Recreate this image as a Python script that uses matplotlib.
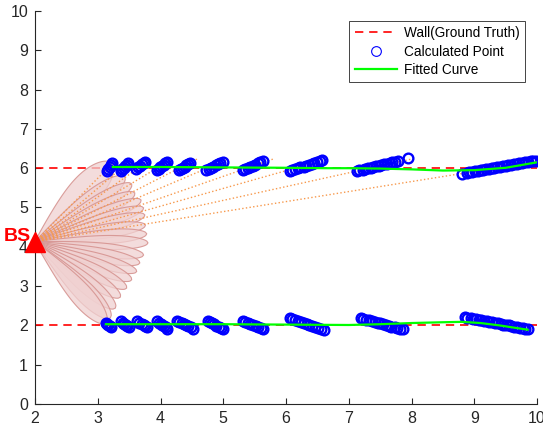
import numpy as np
import matplotlib
matplotlib.use("Agg")
import matplotlib.pyplot as plt
from matplotlib.patches import Polygon

plt.rcParams['font.family'] = ['Liberation Sans', 'DejaVu Sans']

# base station
bs_x, bs_y = 2.0, 4.13

# walls (ground truth)
wall_x = [2, 10]
wall_top = [6, 6]
wall_bottom = [2, 2]

# beam lobe tips (data coords)
lobe_tip_x = [3.22, 3.43, 3.54, 3.59, 3.69, 3.73, 3.75, 3.76, 3.78, 3.80,
              3.73, 3.67, 3.62, 3.54, 3.46, 3.36, 3.28, 3.20, 3.13]
lobe_tip_y = [6.13, 5.78, 5.60, 5.37, 5.19, 4.99, 4.81, 4.55, 4.33, 4.10,
              3.79, 3.59, 3.37, 3.16, 2.95, 2.72, 2.44, 2.19, 2.06]
lobe_width = [30, 20, 17, 16, 15, 14, 14, 14, 14, 14,
              14, 14, 14, 15, 15, 16, 18, 20, 22]  # px

# dotted rays from BS to the upper wall clusters
ray_end_x = [3.27, 3.56, 3.86, 4.18, 4.58, 5.08, 5.79, 6.65, 8.05, 10.0]
ray_end_y = [6.18, 6.25, 6.25, 6.23, 6.23, 6.23, 6.23, 6.23, 6.25, 6.17]

# calculated points, upper wall
top_x = [3.15, 3.17, 3.19, 3.21, 3.23,
         3.37, 3.39, 3.41, 3.43, 3.46, 3.48,
         3.61, 3.64, 3.67, 3.70, 3.73, 3.76,
         3.94, 3.97, 3.99, 4.02, 4.05, 4.07, 4.10,
         4.30, 4.33, 4.36, 4.39, 4.41, 4.44, 4.47,
         4.73, 4.77, 4.80, 4.84, 4.88, 4.92, 4.95, 4.99,
         5.31, 5.35, 5.39, 5.43, 5.47, 5.51, 5.55, 5.59, 5.63,
         6.06, 6.10, 6.15, 6.19, 6.23, 6.28, 6.32, 6.36, 6.41, 6.45, 6.49, 6.54, 6.58,
         7.13, 7.17, 7.22, 7.26, 7.30, 7.35, 7.39, 7.43, 7.48, 7.52, 7.56, 7.61, 7.65,
         7.69, 7.74, 7.78, 7.94,
         8.80, 8.88, 8.92, 8.97, 9.01, 9.06, 9.10, 9.14, 9.19, 9.23, 9.28, 9.32, 9.37,
         9.41, 9.45, 9.50, 9.54, 9.59, 9.63, 9.68, 9.72, 9.76, 9.81, 9.85, 9.90, 9.94, 9.99]
top_y = [5.94, 5.99, 6.04, 6.08, 6.13,
         5.93, 5.97, 6.01, 6.05, 6.09, 6.13,
         5.98, 6.02, 6.06, 6.10, 6.13, 6.17,
         5.95, 5.99, 6.02, 6.05, 6.09, 6.12, 6.16,
         5.95, 5.98, 6.01, 6.04, 6.07, 6.10, 6.13,
         5.95, 5.98, 6.01, 6.04, 6.07, 6.11, 6.14, 6.17,
         5.95, 5.98, 6.01, 6.04, 6.06, 6.09, 6.12, 6.15, 6.18,
         5.93, 5.95, 5.97, 6.00, 6.02, 6.04, 6.06, 6.09, 6.11, 6.13, 6.15, 6.18, 6.20,
         5.93, 5.95, 5.96, 5.98, 6.00, 6.01, 6.03, 6.05, 6.06, 6.08, 6.10, 6.11, 6.13,
         6.15, 6.16, 6.18, 6.25,
         5.85, 5.89, 5.90, 5.91, 5.93, 5.94, 5.95, 5.96, 5.98, 5.99, 6.00, 6.01, 6.03,
         6.04, 6.05, 6.06, 6.08, 6.09, 6.10, 6.11, 6.13, 6.14, 6.15, 6.16, 6.18, 6.18, 6.19]

# calculated points, lower wall
bot_x = [3.13, 3.15, 3.17, 3.19, 3.21,
         3.37, 3.40, 3.42, 3.45, 3.47, 3.50,
         3.63, 3.66, 3.70, 3.73, 3.76, 3.79,
         3.94, 3.97, 4.00, 4.03, 4.05, 4.08, 4.11,
         4.27, 4.30, 4.34, 4.37, 4.41, 4.44, 4.48, 4.51,
         4.75, 4.79, 4.82, 4.86, 4.89, 4.93, 4.96, 5.00,
         5.31, 5.35, 5.39, 5.43, 5.47, 5.52, 5.56, 5.60, 5.64,
         6.06, 6.10, 6.15, 6.19, 6.24, 6.28, 6.33, 6.37, 6.42, 6.46, 6.51, 6.55, 6.60,
         7.19, 7.23, 7.28, 7.32, 7.37, 7.41, 7.46, 7.50, 7.55, 7.59, 7.64, 7.68, 7.73,
         7.77, 7.82, 7.86,
         8.85, 8.89, 8.94, 8.98, 9.03, 9.07, 9.11, 9.16, 9.20, 9.24, 9.29, 9.33, 9.38,
         9.42, 9.46, 9.51, 9.55, 9.59, 9.64, 9.68, 9.73, 9.77, 9.81, 9.86]
bot_y = [2.06, 2.03, 2.01, 1.98, 1.95,
         2.10, 2.07, 2.04, 2.01, 1.98, 1.95,
         2.10, 2.07, 2.04, 2.01, 1.98, 1.95,
         2.10, 2.07, 2.04, 2.01, 1.98, 1.95, 1.92,
         2.12, 2.09, 2.06, 2.03, 2.01, 1.98, 1.95, 1.92,
         2.12, 2.09, 2.06, 2.03, 1.99, 1.96, 1.93, 1.90,
         2.12, 2.09, 2.07, 2.04, 2.01, 1.98, 1.96, 1.93, 1.90,
         2.18, 2.15, 2.13, 2.10, 2.08, 2.05, 2.03, 2.00, 1.98, 1.95, 1.93, 1.90, 1.88,
         2.18, 2.16, 2.14, 2.13, 2.11, 2.09, 2.07, 2.05, 2.03, 2.01, 1.99, 1.97, 1.95,
         1.93, 1.92, 1.90,
         2.21, 2.20, 2.18, 2.17, 2.16, 2.14, 2.13, 2.12, 2.10, 2.09, 2.08, 2.06, 2.05,
         2.04, 2.02, 2.01, 2.00, 1.98, 1.97, 1.96, 1.94, 1.93, 1.92, 1.90]

# fitted curves
fit_top_x = [3.24, 4.0, 5.0, 6.0, 6.6, 7.0, 7.5, 8.0, 8.5, 9.0, 9.5, 10.0]
fit_top_y = [6.03, 6.03, 6.02, 6.01, 6.00, 6.00, 5.99, 5.97, 5.94, 5.95, 6.01, 6.15]
fit_bot_x = [3.13, 4.0, 5.0, 6.0, 7.0, 7.5, 8.0, 8.5, 8.8, 9.1, 9.4, 9.85]
fit_bot_y = [2.03, 2.03, 2.03, 2.02, 2.01, 2.03, 2.06, 2.08, 2.09, 2.06, 2.00, 1.89]

fig = plt.figure(figsize=(5.43, 4.29), dpi=100)
ax = fig.add_axes([0.0645, 0.0583, 0.9245, 0.9161])
ax.set_xlim(2, 10)
ax.set_ylim(0, 10)

dark = '#262626'
for s in ['top', 'right']:
    ax.spines[s].set_visible(False)
for s in ['left', 'bottom']:
    ax.spines[s].set_color(dark)
    ax.spines[s].set_linewidth(0.8)
ax.set_xticks(range(2, 11))
ax.set_yticks(range(0, 11))
ax.tick_params(direction='in', length=4, width=0.8, colors=dark,
               labelsize=11.5, pad=5)

# walls
ax.plot(wall_x, wall_top, '--', color='red', lw=1.2, dashes=(5, 3.5), zorder=2,
        label='Wall(Ground Truth)')
ax.plot(wall_x, wall_bottom, '--', color='red', lw=1.2, dashes=(5, 3.5), zorder=2)

# beam lobes, shaped in display space so they look like the original petals
to_disp = ax.transData
to_data = ax.transData.inverted()
o = to_disp.transform((bs_x, bs_y))
t = np.linspace(0, 1, 100)
for tx, ty, w in zip(lobe_tip_x, lobe_tip_y, lobe_width):
    tip = to_disp.transform((tx, ty))
    d = tip - o
    L = np.hypot(*d)
    u = d / L
    n = np.array([-u[1], u[0]])
    h = 0.5 * w * np.sqrt(np.clip(np.sin(np.pi * t ** 1.8), 0, None))
    side1 = o + np.outer(t * L, u) + np.outer(h, n)
    side2 = o + np.outer(t * L, u) - np.outer(h, n)
    pts = np.vstack([side1, side2[::-1]])
    poly = Polygon(to_data.transform(pts), closed=True,
                   facecolor=(0.94, 0.82, 0.82, 0.75),
                   edgecolor=(0.84, 0.58, 0.57, 0.9), lw=0.8, zorder=3)
    ax.add_patch(poly)

# dotted rays
for ex, ey in zip(ray_end_x, ray_end_y):
    ax.plot([bs_x, ex], [bs_y, ey], ':', color=(0.97, 0.6, 0.3), lw=1.0, zorder=4)

# calculated points
ax.plot(top_x, top_y, 'o', mfc='none', mec='blue', ms=7.0, mew=1.7, zorder=5,
        label='Calculated Point')
ax.plot(bot_x, bot_y, 'o', mfc='none', mec='blue', ms=7.0, mew=1.7, zorder=5)

# fitted curves
ax.plot(fit_top_x, fit_top_y, '-', color=(0, 1, 0), lw=1.6, zorder=6,
        label='Fitted Curve')
ax.plot(fit_bot_x, fit_bot_y, '-', color=(0, 1, 0), lw=1.6, zorder=6)

# base station
ax.plot(bs_x, bs_y, '^', color='red', ms=14, clip_on=False, zorder=7)
ax.text(1.72, 4.27, 'BS', color='red', fontsize=14, fontweight='bold',
        ha='center', va='center', clip_on=False, zorder=7)

leg = ax.legend(loc='upper right', bbox_to_anchor=(0.976, 0.975), fontsize=9.8,
                fancybox=False, framealpha=1, edgecolor=dark, handlelength=3.1,
                handletextpad=0.5, labelspacing=0.32, borderpad=0.4,
                borderaxespad=0)
leg.get_frame().set_linewidth(0.6)
for line in leg.get_lines():
    if line.get_marker() == 'o':
        line.set_markeredgewidth(0.8)

fig.savefig('out.png', dpi=100)
